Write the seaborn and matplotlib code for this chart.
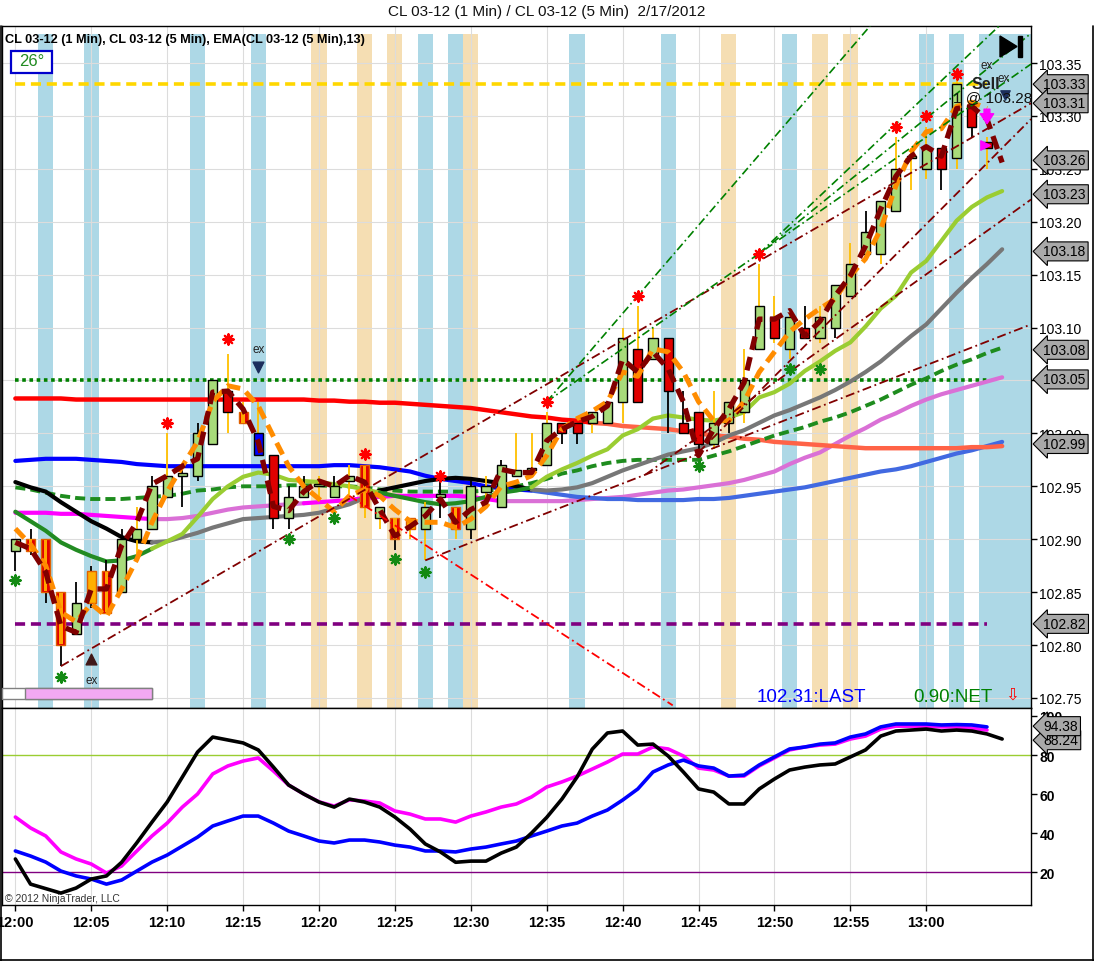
import numpy as np
import matplotlib
matplotlib.use("Agg")
import matplotlib.pyplot as plt
import matplotlib.transforms as mtransforms
from matplotlib.patches import Rectangle, Polygon
from matplotlib.lines import Line2D
import seaborn as sns

# ---------------------------------------------------------------- data
time_ticks = [0, 5, 10, 15, 20, 25, 30, 35, 40, 45, 50, 55, 60]
time_labels = ["12:00", "12:05", "12:10", "12:15", "12:20", "12:25", "12:30",
               "12:35", "12:40", "12:45", "12:50", "12:55", "13:00"]
price_ticks = [102.75, 102.80, 102.85, 102.90, 102.95, 103.00, 103.05,
               103.10, 103.15, 103.20, 103.25, 103.30, 103.35]
hidden_price_ticks = [103.05]
osc_ticks = [20, 40, 60, 80, 100]

opens = [102.889, 102.900, 102.900, 102.850, 102.810, 102.840, 102.870, 102.850, 102.900, 102.910,
         102.940, 102.960, 102.960, 102.990, 103.040, 103.020, 103.000, 102.980, 102.920, 102.940,
         102.950, 102.940, 102.955, 102.970, 102.920, 102.920, 102.910, 102.910, 102.940, 102.930,
         102.910, 102.945, 102.930, 102.960, 102.965, 102.970, 103.010, 103.010, 103.010, 103.010,
         103.030, 103.080, 103.070, 103.090, 103.010, 103.020, 102.990, 103.010, 103.020, 103.080,
         103.110, 103.080, 103.100, 103.090, 103.100, 103.130, 103.170, 103.170, 103.210, 103.260,
         103.250, 103.270, 103.260, 103.310, 103.275]
highs = [102.900, 102.910, 102.900, 102.850, 102.860, 102.875, 102.880, 102.910, 102.930, 102.960,
         103.000, 102.965, 103.010, 103.050, 103.075, 103.030, 103.030, 102.980, 102.950, 102.960,
         102.960, 102.960, 102.970, 102.970, 102.930, 102.920, 102.920, 102.935, 102.960, 102.930,
         102.955, 102.960, 102.975, 103.000, 103.000, 103.020, 103.010, 103.010, 103.020, 103.030,
         103.100, 103.120, 103.100, 103.090, 103.040, 103.020, 103.040, 103.030, 103.080, 103.160,
         103.130, 103.115, 103.120, 103.120, 103.140, 103.180, 103.210, 103.220, 103.280, 103.270,
         103.290, 103.270, 103.340, 103.310, 103.280]
lows = [102.870, 102.885, 102.840, 102.780, 102.810, 102.835, 102.830, 102.850, 102.880, 102.910,
        102.940, 102.930, 102.955, 102.990, 103.000, 103.010, 102.980, 102.910, 102.910, 102.940,
        102.940, 102.940, 102.940, 102.920, 102.910, 102.890, 102.900, 102.880, 102.920, 102.900,
        102.900, 102.930, 102.930, 102.960, 102.960, 102.970, 102.990, 102.990, 103.000, 103.010,
        103.010, 103.030, 103.070, 103.000, 103.000, 102.985, 102.985, 103.000, 103.010, 103.080,
        103.085, 103.070, 103.090, 103.085, 103.090, 103.130, 103.170, 103.160, 103.210, 103.230,
        103.240, 103.230, 103.250, 103.280, 103.250]
closes = [102.900, 102.889, 102.850, 102.800, 102.840, 102.870, 102.830, 102.900, 102.910, 102.950,
          102.960, 102.962, 103.000, 103.050, 103.020, 103.010, 102.980, 102.920, 102.940, 102.950,
          102.952, 102.950, 102.960, 102.930, 102.930, 102.900, 102.920, 102.930, 102.942, 102.910,
          102.950, 102.950, 102.970, 102.965, 102.967, 103.010, 103.000, 103.000, 103.020, 103.030,
          103.090, 103.030, 103.090, 103.040, 103.000, 102.990, 103.010, 103.030, 103.050, 103.120,
          103.090, 103.110, 103.090, 103.110, 103.140, 103.160, 103.190, 103.220, 103.250, 103.262,
          103.270, 103.250, 103.330, 103.290, 103.270]

ma_red = [103.033, 103.033, 103.033, 103.033, 103.032, 103.032, 103.032, 103.032, 103.032, 103.032,
          103.032, 103.032, 103.032, 103.032, 103.032, 103.032, 103.032, 103.032, 103.032, 103.032,
          103.031, 103.031, 103.030, 103.030, 103.029, 103.029, 103.028, 103.027, 103.026, 103.025,
          103.024, 103.022, 103.020, 103.018, 103.016, 103.015, 103.013, 103.012, 103.010, 103.009,
          103.007, 103.006, 103.005, 103.004, 103.002, 103.000, 102.998, 102.997, 102.995, 102.994,
          102.992, 102.991, 102.990, 102.989, 102.988, 102.987, 102.986, 102.986, 102.986, 102.986,
          102.986, 102.986, 102.986, 102.987, 102.987, 102.988]
ma_blue = [102.974, 102.975, 102.976, 102.976, 102.976, 102.975, 102.974, 102.973, 102.971, 102.970,
           102.969, 102.969, 102.969, 102.969, 102.969, 102.969, 102.969, 102.969, 102.969, 102.969,
           102.969, 102.970, 102.970, 102.969, 102.968, 102.966, 102.964, 102.960, 102.957, 102.955,
           102.953, 102.950, 102.948, 102.947, 102.946, 102.944, 102.942, 102.940, 102.939, 102.938,
           102.938, 102.937, 102.937, 102.937, 102.937, 102.938, 102.938, 102.939, 102.941, 102.943,
           102.945, 102.947, 102.949, 102.952, 102.955, 102.958, 102.961, 102.964, 102.966, 102.969,
           102.973, 102.977, 102.981, 102.984, 102.988, 102.992]
ma_black = [102.954, 102.949, 102.945, 102.935, 102.926, 102.917, 102.910, 102.902, 102.898, 102.897,
            102.898, 102.902, 102.906, 102.911, 102.915, 102.919, 102.920, 102.921, 102.922, 102.923,
            102.925, 102.929, 102.933, 102.939, 102.946, 102.949, 102.952, 102.955, 102.957, 102.958,
            102.957, 102.955, 102.953, 102.950, 102.947, 102.946, 102.947, 102.949, 102.953, 102.959,
            102.965, 102.970, 102.975, 102.980, 102.983, 102.986, 102.991, 102.998, 103.003, 103.010,
            103.017, 103.022, 103.028, 103.034, 103.041, 103.049, 103.058, 103.068, 103.080, 103.092,
            103.103, 103.118, 103.133, 103.147, 103.160, 103.174]
ema_green = [102.926, 102.917, 102.908, 102.897, 102.890, 102.884, 102.879, 102.880, 102.884, 102.891,
             102.898, 102.905, 102.921, 102.938, 102.950, 102.959, 102.963, 102.961, 102.956, 102.955,
             102.954, 102.952, 102.950, 102.947, 102.944, 102.941, 102.938, 102.935, 102.933, 102.934,
             102.936, 102.940, 102.944, 102.946, 102.949, 102.959, 102.966, 102.972, 102.979, 102.985,
             102.998, 103.004, 103.014, 103.017, 103.015, 103.013, 103.012, 103.015, 103.020, 103.034,
             103.039, 103.047, 103.059, 103.068, 103.078, 103.086, 103.101, 103.118, 103.130, 103.152,
             103.163, 103.182, 103.201, 103.214, 103.223, 103.229]
ema_green_dash = [102.949, 102.947, 102.944, 102.941, 102.939, 102.938, 102.938, 102.938, 102.939, 102.940,
                  102.941, 102.943, 102.946, 102.947, 102.949, 102.950, 102.950, 102.950, 102.951, 102.951,
                  102.951, 102.950, 102.950, 102.949, 102.947, 102.946, 102.945, 102.945, 102.945, 102.945,
                  102.945, 102.946, 102.947, 102.950, 102.953, 102.957, 102.962, 102.965, 102.969, 102.972,
                  102.974, 102.975, 102.975, 102.975, 102.975, 102.975, 102.979, 102.983, 102.988, 102.993,
                  102.998, 103.002, 103.006, 103.011, 103.015, 103.020, 103.026, 103.032, 103.039, 103.046,
                  103.052, 103.059, 103.065, 103.070, 103.076, 103.081]
ma_pink = [102.925, 102.925, 102.925, 102.924, 102.924, 102.923, 102.922, 102.921, 102.920, 102.919,
           102.919, 102.920, 102.922, 102.925, 102.928, 102.930, 102.931, 102.932, 102.933, 102.934,
           102.935, 102.936, 102.937, 102.939, 102.940, 102.941, 102.941, 102.941, 102.941, 102.941,
           102.940, 102.938, 102.936, 102.936, 102.936, 102.936, 102.936, 102.937, 102.938, 102.939,
           102.940, 102.942, 102.944, 102.946, 102.947, 102.949, 102.951, 102.953, 102.956, 102.960,
           102.964, 102.971, 102.977, 102.982, 102.990, 102.998, 103.005, 103.013, 103.019, 103.026,
           103.032, 103.037, 103.041, 103.045, 103.049, 103.053]
fast_maroon = [102.897, 102.891, 102.869, 102.818, 102.812, 102.853, 102.853, 102.894, 102.916, 102.952,
               102.960, 102.969, 102.976, 103.039, 103.040, 103.023, 102.992, 102.931, 102.927, 102.945,
               102.955, 102.950, 102.960, 102.954, 102.928, 102.903, 102.912, 102.922, 102.938, 102.916,
               102.928, 102.935, 102.966, 102.963, 102.963, 102.993, 103.004, 103.011, 103.016, 103.026,
               103.070, 103.058, 103.077, 103.061, 103.030, 102.979, 103.004, 103.023, 103.048, 103.108,
               103.108, 103.116, 103.092, 103.106, 103.130, 103.149, 103.177, 103.212, 103.243, 103.262,
               103.271, 103.262, 103.307, 103.309, 103.297, 103.256]
fast_orange = [102.910, 102.895, 102.875, 102.831, 102.822, 102.839, 102.827, 102.853, 102.881, 102.916,
               102.945, 102.969, 102.992, 103.030, 103.045, 103.042, 103.026, 102.997, 102.969, 102.950,
               102.938, 102.926, 102.941, 102.947, 102.941, 102.928, 102.917, 102.916, 102.916, 102.911,
               102.919, 102.931, 102.950, 102.954, 102.960, 102.979, 103.004, 103.014, 103.021, 103.030,
               103.058, 103.054, 103.080, 103.077, 103.058, 103.030, 103.012, 103.012, 103.030, 103.058,
               103.077, 103.096, 103.108, 103.118, 103.127, 103.149, 103.165, 103.193, 103.234, 103.266,
               103.285, 103.288, 103.309, 103.313, 103.307]

osc_black = [26.7, 13.8, 11.5, 9.2, 11.8, 16.4, 18.0, 25.0, 35.0, 45.6,
             55.9, 68.7, 81.5, 89.2, 87.7, 86.2, 82.6, 73.8, 64.6, 60.0,
             55.9, 53.3, 57.4, 55.9, 53.3, 48.2, 42.0, 34.4, 30.3, 25.0,
             25.6, 25.6, 29.7, 32.8, 40.0, 48.0, 57.4, 68.7, 83.0, 91.3,
             92.3, 85.1, 85.6, 79.5, 71.3, 62.6, 61.0, 54.9, 54.9, 62.6,
             67.7, 72.3, 73.8, 74.9, 75.4, 79.0, 82.6, 89.7, 92.3, 92.8,
             93.3, 92.3, 92.8, 92.3, 90.8, 88.2]
osc_magenta = [48.2, 42.6, 38.5, 30.3, 26.7, 24.1, 19.5, 23.1, 30.8, 38.5,
               45.1, 53.3, 60.0, 70.3, 74.4, 76.9, 78.5, 71.8, 64.6, 60.0,
               56.0, 53.8, 57.0, 56.4, 55.4, 51.3, 49.7, 47.2, 47.2, 45.6,
               48.7, 50.8, 53.3, 54.9, 58.5, 63.6, 66.2, 69.2, 72.8, 76.4,
               80.5, 80.5, 84.1, 83.1, 79.5, 73.3, 72.3, 69.2, 69.2, 74.4,
               78.5, 82.6, 84.1, 85.1, 85.6, 88.2, 89.7, 93.3, 94.8, 94.8,
               94.8, 94.4, 94.4, 93.8, 92.8]
osc_blue = [30.8, 28.2, 25.1, 20.5, 18.0, 16.4, 13.8, 15.9, 20.5, 25.1,
            28.7, 33.3, 37.9, 43.6, 46.2, 48.7, 48.7, 45.1, 41.0, 38.5,
            35.9, 34.9, 36.4, 36.4, 35.4, 33.8, 32.8, 30.8, 30.8, 30.3,
            31.8, 32.8, 34.4, 35.9, 38.5, 41.0, 43.6, 45.1, 48.7, 51.8,
            56.9, 62.6, 71.3, 74.9, 77.4, 74.4, 73.3, 69.2, 69.7, 74.9,
            79.0, 83.1, 84.1, 85.6, 86.2, 89.2, 90.8, 94.4, 95.9, 95.9,
            95.9, 95.4, 95.6, 95.4, 94.4]
osc_levels = [80, 20]

blue_band_bars = [2, 5, 12, 16, 27, 29, 37, 43, 51, 60, 62]
wheat_band_bars = [20, 23, 25, 30, 47, 53, 55]
last_band_start = 63.5

high_star_bars = [10, 14, 23, 28, 35, 41, 49, 58, 60, 62]
high_star_prices = [103.010, 103.089, 102.981, 102.960, 103.030, 103.130, 103.170, 103.290, 103.300, 103.340]
low_star_bars = [0, 3, 18, 21, 25, 27, 45, 51, 53]
low_star_prices = [102.861, 102.770, 102.900, 102.920, 102.881, 102.869, 102.969, 103.061, 103.061]

level_yellow = 103.33
level_green = 103.05
level_purple = 102.82
level_span = [0, 64]

maroon_x0 = [3, 27, 41.5, 45]
maroon_y0 = [102.780, 102.880, 102.961, 102.982]
maroon_x1 = [66.9, 66.9, 66.9, 66.9]
maroon_y1 = [103.312, 103.103, 103.221, 103.297]
green_x0 = [35, 35, 49, 49]
green_y0 = [103.030, 103.030, 103.170, 103.170]
green_x1 = [56.3, 66.9, 64.8, 66.9]
green_y1 = [103.385, 103.349, 103.385, 103.378]
red_x = [22, 43.3]
red_y = [102.941, 102.743]

price_flags = ["103.33", "103.31", "103.26", "103.23", "103.18", "103.08", "103.05", "102.99", "102.82"]
price_flag_values = [103.33, 103.312, 103.258, 103.226, 103.172, 103.079, 103.051, 102.990, 102.820]
osc_flags = ["94.38", "88.24"]
osc_flag_values = [94.8, 87.6]

# ---------------------------------------------------------------- style
sns.set_theme(style="white")
plt.rcParams["font.family"] = ["Liberation Sans", "DejaVu Sans"]
plt.rcParams["axes.edgecolor"] = "black"

W, H = 1094, 962
fig = plt.figure(figsize=(W / 100, H / 100), dpi=100, facecolor="white")


def fx(px):
    return px / W


def fy(py):
    return 1 - py / H


ax = fig.add_axes([fx(2), fy(709), fx(1031) - fx(2), fy(27) - fy(709)])
ax2 = fig.add_axes([fx(2), fy(906), fx(1031) - fx(2), fy(709) - fy(906)])

XMIN, XMAX = -0.88, 66.9
bars = np.arange(len(opens))
lines_x = np.arange(len(fast_maroon))

for a in (ax, ax2):
    a.set_facecolor("white")
    for s in a.spines.values():
        s.set_color("black")
        s.set_linewidth(1.0)
    a.set_xticks(time_ticks)
    a.grid(True, axis="x", color="#DCDCDC", lw=0.8, zorder=0)
    a.set_axisbelow(True)

ax.grid(True, axis="y", color="#DCDCDC", lw=0.8, zorder=0)

# vertical bands
for k in blue_band_bars:
    ax.axvspan(k - 0.5, k + 0.5, ymin=0, ymax=0.988, color="#ADD8E6", lw=0, zorder=0.5)
ax.axvspan(last_band_start, XMAX, ymin=0, ymax=0.988, color="#ADD8E6", lw=0, zorder=0.5)
for k in wheat_band_bars:
    ax.axvspan(k - 0.5, k + 0.5, ymin=0, ymax=0.988, color="#F5DEB3", lw=0, zorder=0.5)


def seg_line(axis, values, pieces, width, z, style="-"):
    for start, stop, colour in pieces:
        xs = lines_x[start:stop + 1]
        ys = values[start:stop + 1]
        sns.lineplot(x=xs, y=ys, color=colour, ax=axis, linewidth=width,
                     estimator=None, sort=False, linestyle=style, zorder=z)


# horizontal levels
ax.plot(level_span, [level_yellow] * 2, color="#FFD700", lw=2.6, ls=(0, (2.8, 1.6)), zorder=2)
ax.plot(level_span, [level_green] * 2, color="#008000", lw=2.6, ls=(0, (1, 1)), zorder=2)
ax.plot(level_span, [level_purple] * 2, color="#800080", lw=2.6, ls=(0, (2.8, 1.6)), zorder=2)

# moving averages
seg_line(ax, ma_pink, [(0, 9, "#FF00FF"), (9, 19, "#DA70D6"), (19, 32, "#FF00FF"), (32, 65, "#DA70D6")], 3, 2.2)
seg_line(ax, ma_blue, [(0, 34, "#0000FF"), (34, 65, "#4169E1")], 3, 2.3)
seg_line(ax, ma_red, [(0, 38, "#FF0000"), (38, 65, "#FF6347")], 3.2, 2.3)
seg_line(ax, ema_green_dash, [(0, 65, "#1E8C1E")], 2.8, 2.4, style=(0, (2.6, 1.3)))
seg_line(ax, ma_black, [(0, 9, "#000000"), (9, 23, "#777777"), (23, 34, "#000000"), (34, 65, "#777777")], 3, 2.5)
seg_line(ax, ema_green, [(0, 9, "#228B22"), (9, 24, "#9ACD32"), (24, 34, "#228B22"), (34, 65, "#9ACD32")], 3, 2.6)

# candles
gold_wicks = {8, 10, 14, 15, 16, 20, 22, 23, 24, 26, 27, 29, 31, 33, 34, 35, 38, 40, 41, 42,
              46, 48, 49, 50, 51, 53, 55, 57, 58, 59, 60, 62, 64}
orange_core = {1, 2, 3, 6, 15, 23, 25, 29}
wick_cols = ["#FFC000" if i in gold_wicks else "black" for i in bars]
ax.vlines(bars, lows, highs, colors=wick_cols, lw=1.3, zorder=3)
o = np.array(opens)
c = np.array(closes)
bottom = np.minimum(o, c)
height = np.maximum(np.abs(c - o), 0.0025)
body_cols = []
for i in bars:
    if i == 16:
        body_cols.append("#0000FF")
    elif i in (5, 26):
        body_cols.append("#FFB000")
    elif c[i] >= o[i]:
        body_cols.append("#A8DB7A")
    else:
        body_cols.append("#E00000")
edge_cols = ["#E06000" if i in orange_core or i in (5, 26) else "black" for i in bars]
ax.bar(bars, height, bottom=bottom, width=0.6, color=body_cols, edgecolor=edge_cols,
       linewidth=1.0, zorder=4)
core = sorted(orange_core)
ax.bar(core, height[core] * 0.96, bottom=bottom[core] + height[core] * 0.02, width=0.22,
       color="#FFA500", lw=0, zorder=4.5)

# fast dashed lines
seg_line(ax, fast_orange, [(0, 64, "#FF8C00")], 3.6, 5, style=(0, (2.6, 1.4)))
seg_line(ax, fast_maroon, [(0, 65, "#800000")], 3.8, 5.2, style=(0, (2.6, 1.4)))

# trend lines
for a0, b0, a1, b1 in zip(maroon_x0, maroon_y0, maroon_x1, maroon_y1):
    ax.plot([a0, a1], [b0, b1], color="#800000", lw=1.3, ls=(0, (5, 2, 1, 2)), zorder=5.5)
for a0, b0, a1, b1 in zip(green_x0, green_y0, green_x1, green_y1):
    ax.plot([a0, a1], [b0, b1], color="#008000", lw=1.2, ls=(0, (5, 2, 1, 2)), zorder=5.5)
ax.plot(red_x, red_y, color="#FF0000", lw=1.3, ls=(0, (5, 2, 1, 2)), zorder=5.5)

# stars
ax.scatter(high_star_bars, high_star_prices, marker=(8, 2, 0), s=55, color="#FF0000", lw=1.6, zorder=6)
ax.scatter(high_star_bars, high_star_prices, marker="o", s=10, color="#FF0000", lw=0, zorder=6)
ax.scatter(low_star_bars, low_star_prices, marker=(8, 2, 0), s=55, color="#138A13", lw=1.6, zorder=6)
ax.scatter(low_star_bars, low_star_prices, marker="o", s=10, color="#138A13", lw=0, zorder=6)

# markers and notes
ax.scatter([16], [103.063], marker="v", s=60, color="#1C2E5C", zorder=6)
ax.text(16, 103.080, "ex", fontsize=8.5, color="#222222", ha="center", va="center", zorder=6)
ax.scatter([5], [102.787], marker="^", s=60, color="#401818", zorder=6)
ax.text(5, 102.767, "ex", fontsize=8.5, color="#222222", ha="center", va="center", zorder=6)
ax.text(64, 103.348, "ex", fontsize=8.5, color="#222222", ha="center", va="center", zorder=7)
ax.text(63.9, 103.331, "Sell", fontsize=11.5, fontweight="bold", color="#222222", ha="center",
        va="center", zorder=7)
ax.text(65.1, 103.336, "ex", fontsize=8.5, color="#222222", ha="center", va="center", zorder=7)
ax.scatter([65.2], [103.320], marker="v", s=45, color="#1C2E5C", zorder=7)
ax.text(61.75, 103.318, "1 @ 103.28", fontsize=11, color="#111111", ha="left", va="center", zorder=7)
ax.annotate("", xy=(64, 103.290), xytext=(64, 103.309),
            arrowprops=dict(arrowstyle="simple,head_width=0.8,head_length=0.6,tail_width=0.35",
                            fc="#FF00FF", ec="#FF00FF"), zorder=7)
ax.scatter([63.85], [103.273], marker=">", s=45, color="#FF00FF", zorder=7)

# axes setup
ax.set_xlim(XMIN, XMAX)
ax.set_ylim(102.7405, 103.385)
ax.set_yticks(price_ticks)
ax.set_yticklabels(["" if v in hidden_price_ticks else f"{v:.2f}" for v in price_ticks])
ax.yaxis.tick_right()
ax.tick_params(axis="y", direction="out", length=4, width=1, labelsize=10, pad=2,
               colors="black", right=True, left=False)
ax.tick_params(axis="x", bottom=False, labelbottom=False)
ax.set_xlabel("")
ax.set_ylabel("")

# oscillator panel
for lv, col in zip(osc_levels, ["#9ACD32", "#800080"]):
    ax2.axhline(lv, color=col, lw=1.0, zorder=1)
sns.lineplot(x=lines_x[:len(osc_magenta)], y=osc_magenta, ax=ax2, color="#FF00FF", linewidth=2.6,
             estimator=None, sort=False, zorder=3)
sns.lineplot(x=lines_x[:len(osc_blue)], y=osc_blue, ax=ax2, color="#0000FF", linewidth=2.6,
             estimator=None, sort=False, zorder=3.2)
sns.lineplot(x=lines_x, y=osc_black, ax=ax2, color="#000000", linewidth=2.6,
             estimator=None, sort=False, zorder=3.4)
ax2.set_xlim(XMIN, XMAX)
ax2.set_ylim(3.1, 104.1)
ax2.set_yticks(osc_ticks)
ax2.yaxis.tick_right()
ax2.tick_params(axis="y", direction="out", length=4, width=1, labelsize=10, pad=2,
                colors="black", right=True, left=False)
ax2.set_xticklabels(time_labels, fontweight="bold")
ax2.tick_params(axis="x", direction="out", length=4, width=1, labelsize=10.5, pad=3,
                colors="black", bottom=True)
for lab in ax2.get_yticklabels():
    lab.set_fontweight("bold")
ax2.set_xlabel("")
ax2.set_ylabel("")

# price flags on the right
tr = mtransforms.blended_transform_factory(ax.transAxes, ax.transData)
for lab, val in zip(price_flags, price_flag_values):
    ax.text(1.012, val, lab, transform=tr, fontsize=10, color="black", ha="left", va="center",
            zorder=10, clip_on=False,
            bbox=dict(boxstyle="larrow,pad=0.18", fc="#A9A9A9", ec="black", lw=0.8))
tr2 = mtransforms.blended_transform_factory(ax2.transAxes, ax2.transData)
for lab, val in zip(osc_flags[::-1], osc_flag_values[::-1]):
    ax2.text(1.012, val, lab, transform=tr2, fontsize=10, color="black", ha="left", va="center",
             zorder=10, clip_on=False,
             bbox=dict(boxstyle="larrow,pad=0.18", fc="#A9A9A9", ec="black", lw=0.8))

# texts
fig.text(0.5, fy(12), "CL 03-12 (1 Min) / CL 03-12 (5 Min)  2/17/2012", ha="center", va="center",
         fontsize=11, color="#111111")
fig.text(fx(5), fy(40), "CL 03-12 (1 Min), CL 03-12 (5 Min), EMA(CL 03-12 (5 Min),13)",
         ha="left", va="center", fontsize=9.2, fontweight="bold", color="black", zorder=10)
fig.patches.append(Rectangle((fx(11), fy(74)), fx(52) - fx(11), fy(52) - fy(74), transform=fig.transFigure,
                             fill=True, fc="white", ec="#0000CC", lw=1.6, zorder=9))
fig.text(fx(31.5), fy(62), "26°", ha="center", va="center", fontsize=12, color="#228B22", zorder=10)
fig.text(fx(811), fy(697), "102.31:LAST", ha="center", va="center", fontsize=13.5, color="#0000FF")
fig.text(fx(953), fy(697), "0.90:NET", ha="center", va="center", fontsize=13.5, color="#008000")
fig.text(fx(1012), fy(695), "⇩", ha="center", va="center", fontsize=12, color="#FF0000",
         family=["DejaVu Sans"])
fig.text(fx(5), fy(899), "© 2012 NinjaTrader, LLC", ha="left", va="center", fontsize=7.5, color="#333333")

# play/end icon
fig.patches.append(Polygon([(fx(1000), fy(37)), (fx(1000), fy(58)), (fx(1017), fy(47.5))],
                           closed=True, transform=fig.transFigure, fc="black", ec="black", zorder=10))
fig.patches.append(Rectangle((fx(1018), fy(58)), fx(3.5), fy(37) - fy(58), transform=fig.transFigure,
                             fc="black", ec="black", zorder=10))

# progress bar
fig.patches.append(Rectangle((fx(2), fy(700)), fx(150), fy(689) - fy(700), transform=fig.transFigure,
                             fc="white", ec="#808080", lw=1, zorder=9))
fig.patches.append(Rectangle((fx(25), fy(700)), fx(127), fy(689) - fy(700), transform=fig.transFigure,
                             fc="#F3A9F3", ec="#808080", lw=1, zorder=9))

# outer frame
for seg in ([(fx(0.5), fx(0.5)), (0, fy(27))], [(fx(1093), fx(1093)), (0, fy(27))],
            [(0, 1), (fy(960.5), fy(960.5))]):
    fig.add_artist(Line2D(seg[0], seg[1], color="black", lw=1.2, transform=fig.transFigure))

fig.savefig("out.png", dpi=100, facecolor="white")
